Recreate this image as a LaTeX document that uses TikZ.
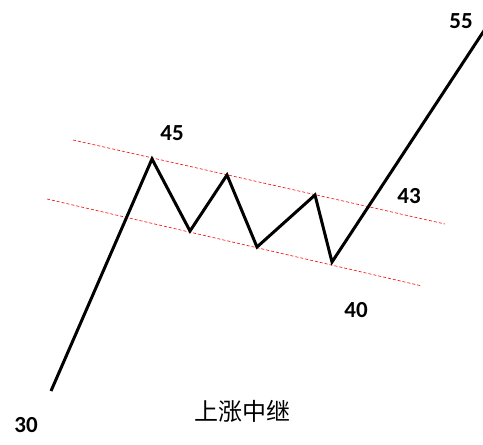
\documentclass[tikz,border=0pt]{standalone}
\usepackage{fontspec}
\setmainfont{Carlito}
\newfontfamily\cjk{Noto Sans CJK SC}
\begin{document}
\begin{tikzpicture}[x=1pt,y=-1pt,
	price/.style={line width=3pt,line join=miter},
	channel/.style={red,densely dashed,line width=0.6pt},
	level/.style={font=\bfseries\fontsize{23}{27}\selectfont}]
	\useasboundingbox (0,0) rectangle (483,445);
	% price path
	\coordinate (s0) at (51,391);
	\coordinate (h1) at (152,159);
	\coordinate (t1) at (190,231);
	\coordinate (h2) at (227,175);
	\coordinate (t2) at (257,247);
	\coordinate (h3) at (315,195);
	\coordinate (t3) at (332,262);
	\coordinate (e0) at (493,17);
	% channel ends
	\coordinate (u1) at (73,140);
	\coordinate (u2) at (445,224);
	\coordinate (d1) at (47,199);
	\coordinate (d2) at (422,286);
	\draw[channel] (u1) -- (u2);
	\draw[channel] (d1) -- (d2);
	\draw[price] (s0) -- (h1) -- (t1) -- (h2) -- (t2) -- (h3) -- (t3) -- (e0);
	\node[level] (n45) at (172,133) {45};
	\node[level] (n43) at (409,196) {43};
	\node[level] (n40) at (356,310) {40};
	\node[level] (n55) at (461,21) {55};
	\node[level] (n30) at (26,425) {30};
	\node[font=\cjk\fontsize{24}{28}\selectfont] (title) at (242,411) {上涨中继};
\end{tikzpicture}
\end{document}
